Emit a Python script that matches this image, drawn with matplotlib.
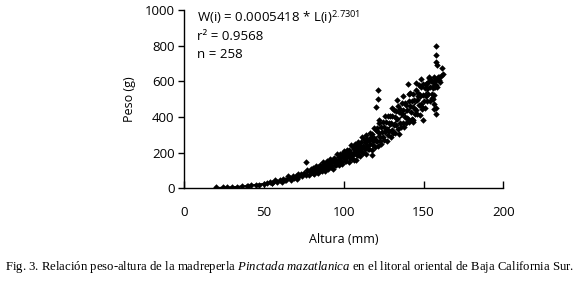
import matplotlib
matplotlib.use("Agg")
import matplotlib.pyplot as plt
from matplotlib import font_manager

# ---------------- data ----------------
# small shells, 20-55 mm
alt_a = [20, 24, 27, 30, 33, 36, 39, 40, 42, 45, 47, 50, 52, 55]
peso_a = [5, 6, 8, 8, 10, 12, 14, 12, 16, 19, 21, 25, 29, 32]

# 54-80 mm
alt_b = [54, 55, 57, 58, 60, 61, 62, 63, 64, 65, 66, 67, 68, 69,
         70, 70.5, 71, 72, 73, 74, 75, 76, 76.5, 77, 78, 79, 79.5, 80]
peso_b = [33, 28, 44, 37, 47, 36, 54, 49, 45, 67, 57, 49, 71, 59,
          70, 52, 82, 68, 82, 67, 84, 76, 149, 101, 73, 96, 110, 89]

# 80-101 mm
alt_c = [80.4, 80.9, 81.5, 81.8, 82.3, 82.9, 83.2, 83.8,
         84.1, 84.7, 85.0, 85.6, 86.0, 86.5, 86.9, 87.4,
         87.8, 88.3, 88.7, 89.2, 89.5, 90.1, 90.4, 90.9,
         91.3, 91.8, 92.2, 92.7, 93.0, 93.6, 94.0, 94.3,
         94.9, 95.2, 95.8, 96.1, 96.7, 97.0, 97.5, 97.9,
         98.4, 98.7, 99.1, 99.6, 99.9, 100.3, 100.6, 100.9]
peso_c = [87, 112, 82, 105, 124, 101, 92, 118,
          85, 112, 131, 102, 122, 99, 146, 113,
          134, 99, 124, 151, 117, 148, 109, 139,
          163, 132, 121, 153, 111, 146, 171, 131,
          158, 128, 190, 146, 175, 128, 160, 193,
          150, 190, 139, 177, 209, 168, 154, 194]

# 101-120 mm
alt_d = [101.2, 101.5, 101.9, 102.3, 102.6, 103.0, 103.4, 103.7,
         104.1, 104.4, 104.8, 105.1, 105.5, 105.9, 106.2, 106.6,
         106.9, 107.3, 107.7, 108.0, 108.4, 108.7, 109.1, 109.5,
         109.8, 110.2, 110.5, 110.9, 111.3, 111.6, 112.0, 112.3,
         112.7, 113.0, 113.4, 113.8, 114.1, 114.5, 114.8, 115.2,
         115.6, 115.9, 116.3, 116.6, 117.0, 117.4, 117.7, 118.1,
         118.4, 118.8, 119.2, 119.5, 119.9, 120.2, 107.7, 117.8]
peso_d = [187, 155, 217, 173, 202, 150, 215, 189,
          172, 241, 198, 166, 232, 188, 219, 160,
          250, 201, 234, 185, 226, 187, 261, 208,
          243, 180, 259, 227, 206, 289, 237, 199,
          277, 223, 261, 191, 299, 239, 279, 220,
          269, 222, 309, 246, 288, 213, 306, 267,
          242, 340, 280, 234, 326, 263, 159, 187]

# 120-140 mm
alt_e = [120.6, 121.0, 121.4, 121.7, 122.1, 122.5, 122.8, 123.2,
         123.6, 123.9, 124.3, 124.6, 125.0, 125.4, 125.7, 126.1,
         126.5, 126.8, 127.2, 127.5, 127.9, 128.3, 128.6, 129.0,
         129.4, 129.7, 130.1, 130.4, 130.8, 131.2, 131.5, 131.9,
         132.3, 132.6, 133.0, 133.3, 133.7, 134.1, 134.4, 134.8,
         135.2, 135.5, 135.9, 136.3, 136.6, 137.0, 137.4, 137.7,
         138.1, 138.5, 138.8, 139.2, 139.6, 139.9,
         121.3, 121.3, 120.3, 122.3, 130.4, 133.4, 137.3, 140.0]
peso_e = [268, 339, 240, 313, 367, 285, 263, 342,
          246, 318, 371, 286, 341, 271, 404, 314,
          370, 266, 332, 404, 300, 364, 321, 404,
          285, 368, 325, 405, 308, 440, 357, 400,
          311, 432, 356, 388, 334, 460, 305, 428,
          365, 445, 341, 416, 476, 365, 438, 341,
          477, 401, 366, 466, 394, 439,
          551, 499, 457, 385, 453, 495, 517, 584]

# 140-162 mm
alt_f = [140.3, 140.7, 141.1, 141.4, 141.8, 142.2, 142.5, 142.9,
         143.3, 143.6, 144.0, 144.3, 144.7, 145.1, 145.4, 145.8,
         146.2, 146.5, 146.9, 147.3, 147.6, 148.0, 148.4, 148.7,
         149.1, 149.5, 149.8, 150.2, 150.6, 150.9, 151.3, 151.7,
         152.0, 152.4, 152.8, 153.1, 153.5, 153.9, 154.2, 154.6,
         155.0, 155.3, 155.7, 156.1, 156.4, 156.8, 157.2, 157.5,
         157.9, 158.3, 158.6, 159.0, 159.4, 159.8, 160.3, 161.0,
         141.1, 143.1, 145.3, 148.4, 149.0, 149.4, 151.5, 153.6,
         155.2, 155.7, 156.7, 156.7, 157.7, 158.1, 158.1, 157.7,
         158.3, 158.1, 161.3, 162.0, 141.1, 146.3]
peso_f = [391, 489, 370, 461, 532, 428, 390, 492,
          373, 527, 452, 497, 415, 551, 440, 496,
          417, 537, 466, 579, 413, 526, 470, 569,
          456, 526, 586, 491, 563, 450, 586, 520,
          562, 489, 596, 528, 620, 491, 567, 599,
          528, 600, 564, 596, 524, 627, 566, 605,
          579, 613, 568, 626, 606, 622, 596, 628,
          527, 385, 593, 612, 442, 385, 584, 622,
          508, 499, 470, 442, 414, 800, 748, 706,
          691, 452, 674, 640, 376, 517]

altura = alt_a + alt_b + alt_c + alt_d + alt_e + alt_f
peso = peso_a + peso_b + peso_c + peso_d + peso_e + peso_f

# fitted curve
curva_x = [20, 30, 40, 50, 60, 70, 80, 90, 100, 110, 120, 130, 140, 150, 160, 161.5]
curva_y = [2, 6, 14, 26, 43, 65, 94, 129, 172, 223, 283, 352, 431, 520, 615, 630]

x_ticks = [0, 50, 100, 150, 200]
y_ticks = [0, 200, 400, 600, 800, 1000]

# ---------------- fonts ----------------
names = {f.name for f in font_manager.fontManager.ttflist}
sans = "Liberation Sans Narrow" if "Liberation Sans Narrow" in names else "Open Sans"
plt.rcParams["font.family"] = [sans, "DejaVu Sans"]
plt.rcParams["mathtext.fontset"] = "custom"
plt.rcParams["mathtext.rm"] = "Liberation Serif"
plt.rcParams["mathtext.it"] = "Liberation Serif:italic"
plt.rcParams["mathtext.sf"] = sans

fig = plt.figure(figsize=(5.80, 2.97), dpi=100)
ax = fig.add_axes([184.3 / 580, 1 - 188.3 / 297, 319 / 580, 178.3 / 297])

ax.plot(altura, peso, linestyle="none", marker="D", markersize=3.3,
        color="black", markeredgewidth=0)
ax.plot(curva_x, curva_y, color="black", linewidth=1.3)

ax.set_xlim(0, 200)
ax.set_ylim(0, 1000)
ax.set_xticks(x_ticks)
ax.set_yticks(y_ticks)
ax.spines["top"].set_visible(False)
ax.spines["right"].set_visible(False)
for s in ("left", "bottom"):
    ax.spines[s].set_linewidth(1.0)
ax.tick_params(axis="x", direction="in", length=5, width=1.0, labelsize=9.5, pad=13)
ax.tick_params(axis="y", direction="out", length=4, width=1.0, labelsize=9.5, pad=3)

ax.set_xlabel("Altura (mm)", fontsize=9, labelpad=10)
ax.set_ylabel("Peso (g)", fontsize=9, labelpad=6)

ax.text(0.04, 0.962, r"W(i) = 0.0005418 * L(i)$^{\mathsf{2.7301}}$", transform=ax.transAxes,
        fontsize=9.5, va="center", ha="left")
ax.text(0.04, 0.852, "r² = 0.9568", transform=ax.transAxes, fontsize=9.5, va="center", ha="left")
ax.text(0.04, 0.748, "n = 258", transform=ax.transAxes, fontsize=9.5, va="center", ha="left")

fig.text(5 / 580, 1 - 267 / 297,
         r"Fig. 3. Relación peso-altura de la madreperla $\mathit{Pinctada\ mazatlanica}$ en el litoral oriental de Baja California Sur.",
         fontsize=9.2, family="Liberation Serif", va="center", ha="left")

fig.savefig("out.png", dpi=100)
